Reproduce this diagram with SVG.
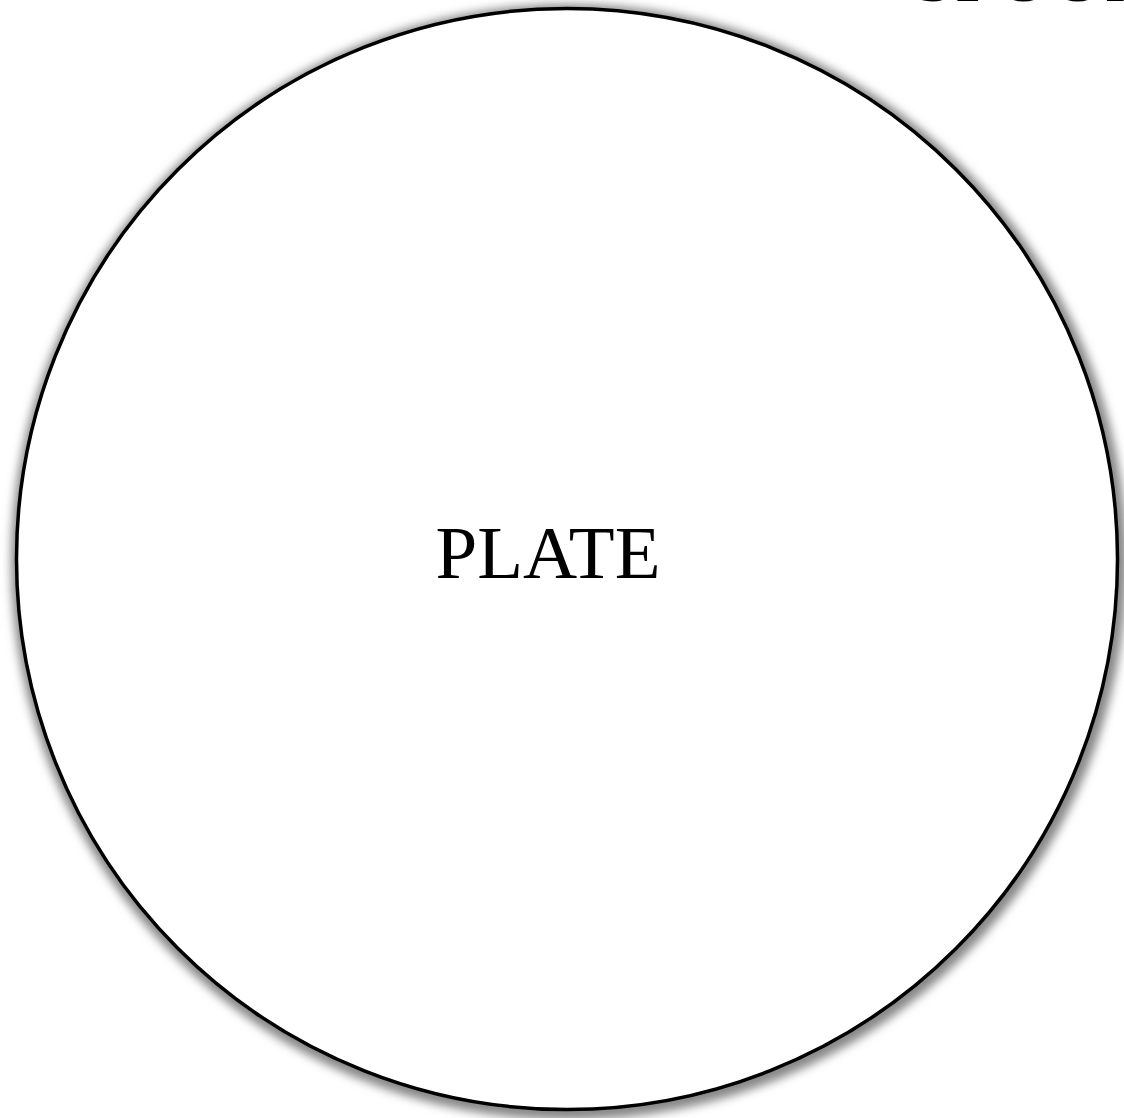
<svg xmlns="http://www.w3.org/2000/svg" width="1124" height="1118" viewBox="0 0 1124 1118">
  <style>
    .lbl { font-family: "Liberation Serif", "Times New Roman", serif; font-size: 75px; fill: #000; }
    .plate { fill: #fff; stroke: #000; stroke-width: 3.5; }
    .shadow { fill: #888; }
  </style>
  <defs>
    <filter id="blur" x="-10%" y="-10%" width="120%" height="120%">
      <feGaussianBlur stdDeviation="5"/>
    </filter>
  </defs>
  <rect width="1124" height="1118" fill="#fff"/>
  <g id="connectors"></g>
  <g id="plate">
    <circle class="shadow" cx="569" cy="562" r="558" filter="url(#blur)"/>
    <circle class="plate" cx="567" cy="559" r="550.5"/>
    <text class="lbl" x="548" y="578" text-anchor="middle">PLATE</text>
  </g>
  <g id="spoon">
    <text class="lbl" x="913" y="1">SPOON</text>
  </g>
</svg>
